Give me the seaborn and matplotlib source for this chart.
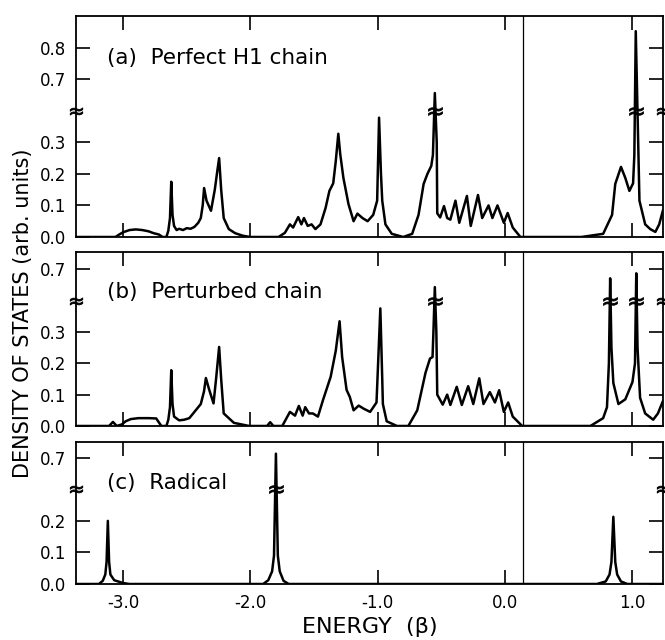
import numpy as np
import matplotlib
matplotlib.use("Agg")
import matplotlib.pyplot as plt
import matplotlib.transforms as mtransforms
import seaborn as sns

# ---- data (energy in units of beta, DOS in arb. units)
e_a = [-3.37, -3.06, -3.03, -3.00, -2.95, -2.90, -2.85, -2.80, -2.76, -2.72, -2.69,
       -2.66, -2.645, -2.632, -2.622, -2.612, -2.60, -2.58, -2.56, -2.53, -2.50, -2.47,
       -2.44, -2.41, -2.39, -2.375, -2.364, -2.345, -2.31, -2.28, -2.26, -2.246, -2.23,
       -2.21, -2.17, -2.12, -2.06, -2.00, -1.78, -1.73, -1.69, -1.665, -1.625, -1.60,
       -1.58, -1.55, -1.52, -1.49, -1.45, -1.41, -1.38, -1.35, -1.33, -1.31, -1.295,
       -1.27, -1.23, -1.19, -1.16, -1.12, -1.08, -1.036, -1.005, -0.99, -0.975, -0.965,
       -0.94, -0.89, -0.80, -0.73, -0.68, -0.64, -0.61, -0.58, -0.567, -0.552, -0.537,
       -0.533, -0.51, -0.48, -0.455, -0.43, -0.39, -0.36, -0.30, -0.27, -0.213, -0.18,
       -0.13, -0.10, -0.06, -0.01, 0.02, 0.06, 0.12, 0.60, 0.77, 0.84, 0.865, 0.91,
       0.944, 0.976, 1.005, 1.015, 1.026, 1.045, 1.055, 1.10, 1.14, 1.18, 1.21, 1.24]
dos_a = [0.0, 0.0, 0.008, 0.015, 0.022, 0.024, 0.022, 0.018, 0.012, 0.008, 0.0,
         0.0, 0.02, 0.06, 0.175, 0.07, 0.035, 0.022, 0.026, 0.022, 0.028, 0.026,
         0.032, 0.045, 0.06, 0.10, 0.155, 0.115, 0.083, 0.15, 0.21, 0.25, 0.15,
         0.06, 0.025, 0.012, 0.004, 0.0, 0.0, 0.013, 0.04, 0.03, 0.063, 0.04,
         0.06, 0.035, 0.04, 0.025, 0.04, 0.092, 0.146, 0.17, 0.24, 0.327, 0.263,
         0.187, 0.104, 0.05, 0.074, 0.06, 0.05, 0.07, 0.115, 0.378, 0.2, 0.115,
         0.04, 0.01, 0.0, 0.01, 0.07, 0.168, 0.2, 0.225, 0.26, 0.656, 0.3,
         0.075, 0.062, 0.098, 0.06, 0.055, 0.115, 0.045, 0.13, 0.035, 0.133, 0.06,
         0.10, 0.06, 0.10, 0.045, 0.076, 0.03, 0.0, 0.0, 0.01, 0.07, 0.168, 0.222,
         0.187, 0.146, 0.17, 0.26, 0.852, 0.3, 0.115, 0.04, 0.025, 0.016, 0.04, 0.085]

e_b = [-3.37, -3.11, -3.08, -3.05, -3.01, -2.98, -2.94, -2.88, -2.80, -2.74, -2.72,
       -2.70, -2.66, -2.645, -2.632, -2.622, -2.612, -2.60, -2.56, -2.52, -2.48, -2.43,
       -2.39, -2.365, -2.35, -2.325, -2.29, -2.27, -2.246, -2.23, -2.21, -2.13, -2.01,
       -1.87, -1.845, -1.82, -1.75, -1.69, -1.65, -1.62, -1.59, -1.57, -1.54, -1.51,
       -1.47, -1.43, -1.37, -1.33, -1.30, -1.28, -1.245, -1.22, -1.19, -1.15, -1.11,
       -1.06, -1.01, -0.98, -0.965, -0.96, -0.93, -0.85, -0.76, -0.69, -0.625, -0.59,
       -0.57, -0.563, -0.552, -0.54, -0.533, -0.49, -0.455, -0.43, -0.38, -0.34, -0.29,
       -0.25, -0.203, -0.17, -0.12, -0.08, -0.047, -0.01, 0.024, 0.06, 0.134, 0.67,
       0.77, 0.80, 0.815, 0.825, 0.835, 0.85, 0.89, 0.944, 1.0, 1.02, 1.03, 1.04,
       1.06, 1.10, 1.163, 1.20, 1.24]
dos_b = [0.0, 0.0, 0.013, 0.0, 0.005, 0.015, 0.022, 0.025, 0.025, 0.024, 0.012,
         0.0, 0.0, 0.02, 0.06, 0.178, 0.07, 0.03, 0.018, 0.02, 0.025, 0.05,
         0.07, 0.11, 0.153, 0.117, 0.072, 0.15, 0.252, 0.15, 0.04, 0.01, 0.0,
         0.0, 0.012, 0.0, 0.0, 0.045, 0.033, 0.064, 0.033, 0.06, 0.04, 0.04,
         0.03, 0.083, 0.157, 0.24, 0.334, 0.22, 0.115, 0.093, 0.05, 0.065, 0.055,
         0.045, 0.075, 0.375, 0.15, 0.07, 0.015, 0.0, 0.0, 0.05, 0.17, 0.215,
         0.22, 0.3, 0.643, 0.3, 0.1, 0.068, 0.10, 0.067, 0.125, 0.067, 0.127,
         0.07, 0.152, 0.07, 0.108, 0.075, 0.114, 0.045, 0.075, 0.03, 0.0, 0.0,
         0.025, 0.06, 0.2, 0.671, 0.25, 0.137, 0.07, 0.085, 0.14, 0.2, 0.687, 0.25,
         0.09, 0.04, 0.02, 0.04, 0.08]

e_c = [-3.37, -3.19, -3.16, -3.14, -3.13, -3.12, -3.11, -3.10, -3.07, -3.00, -2.95,
       -1.90, -1.86, -1.83, -1.815, -1.80, -1.785, -1.77, -1.74, -1.70,
       0.72, 0.79, 0.82, 0.835, 0.85, 0.865, 0.88, 0.91, 0.96, 1.24]
dos_c = [0.0, 0.0, 0.01, 0.03, 0.07, 0.20, 0.07, 0.03, 0.012, 0.003, 0.0,
         0.0, 0.012, 0.04, 0.09, 0.713, 0.09, 0.04, 0.01, 0.0,
         0.0, 0.008, 0.03, 0.07, 0.213, 0.07, 0.03, 0.008, 0.0, 0.0]

panel_labels = ["(a)  Perfect H1 chain", "(b)  Perturbed chain", "(c)  Radical"]
yticks_a = [0.0, 0.1, 0.2, 0.3, 0.7, 0.8]
yticks_b = [0.0, 0.1, 0.2, 0.3, 0.7]
yticks_c = [0.0, 0.1, 0.2, 0.7]
xticks = [-3.0, -2.0, -1.0, 0.0, 1.0]
spikes_a = [-0.552, 1.026]
spikes_b = [-0.552, 0.825, 1.03]
spikes_c = [-1.80]
fermi = 0.14

# broken axis: (gap low, gap high, shift of upper part, y top)
breaks = [(0.39, 0.61, 0.20, 0.90), (0.39, 0.61, 0.20, 0.755), (0.29, 0.61, 0.30, 0.75)]


def make_scale(lo, hi, shift):
    xp = [-10.0, lo, hi, 10.0]
    fp = [-10.0, lo, hi - shift, 10.0 - shift]

    def fwd(v):
        return np.interp(v, xp, fp)

    def inv(d):
        return np.interp(d, fp, xp)
    return fwd, inv


sns.set_theme(style="ticks")
plt.rcParams.update({
    "font.family": ["DejaVu Sans"],
    "axes.linewidth": 1.3,
    "axes.edgecolor": "black",
    "text.color": "black", "axes.labelcolor": "black",
    "xtick.color": "black", "ytick.color": "black",
})

fig = plt.figure(figsize=(6.65, 6.4), dpi=100)
positions = [[0.1143, 0.6297, 0.8827, 0.3453],
             [0.1143, 0.3344, 0.8827, 0.2719],
             [0.1143, 0.0875, 0.8827, 0.2219]]
series = [(e_a, dos_a, yticks_a, spikes_a), (e_b, dos_b, yticks_b, spikes_b),
          (e_c, dos_c, yticks_c, spikes_c)]

for i, ((ee, dd, yt, spikes), (lo, hi, shift, ytop)) in enumerate(zip(series, breaks)):
    ax = fig.add_axes(positions[i])
    sns.lineplot(x=ee, y=dd, ax=ax, color="black", linewidth=1.8)
    fwd, inv = make_scale(lo, hi, shift)
    ax.set_yscale("function", functions=(fwd, inv))
    ax.set_ylim(0.0, ytop)
    ax.set_xlim(-3.37, 1.24)
    ax.set_yticks(yt)
    ax.set_yticklabels([f"{t:.1f}" for t in yt])
    ax.set_xticks(xticks)
    ax.axvline(fermi, color="black", linewidth=0.9)
    ax.tick_params(direction="in", length=10, width=1.2, top=True, right=True,
                   labelsize=12, pad=7)

    # break marks on the spikes and on both spines
    brk = (lo + hi) / 2
    ax.plot(spikes, [brk] * len(spikes), ls="none", marker=r"$\approx$",
            markersize=10, color="black", markeredgewidth=0.6)
    trans = mtransforms.blended_transform_factory(ax.transAxes, ax.transData)
    ax.plot([0, 1], [brk, brk], transform=trans, ls="none", marker=r"$\approx$",
            markersize=9, color="black", clip_on=False, markeredgewidth=0.6)

    ax.text(0.053, [0.81, 0.77, 0.711][i], panel_labels[i], transform=ax.transAxes,
            fontsize=15.5, va="center", ha="left")
    if i < 2:
        ax.tick_params(labelbottom=False)
    else:
        ax.set_xticklabels([f"{t:.1f}" for t in xticks])
        ax.set_xlabel("ENERGY  (β)", fontsize=16, labelpad=4)

fig.text(0.035, 0.51, "DENSITY OF STATES (arb. units)", rotation=90,
         fontsize=15, va="center", ha="center")

fig.savefig("out.png", dpi=100)
